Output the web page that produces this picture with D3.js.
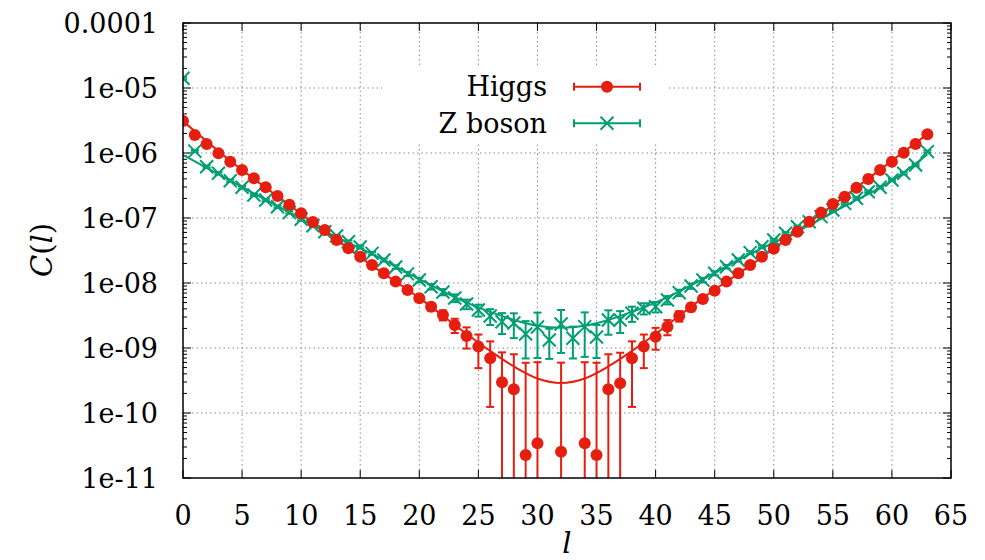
<!DOCTYPE html>
<meta charset="utf-8">

<style type="text/css">
    body { margin: 0; background: #fff; }

    /* dotted grid like gnuplot */
    .grid line { stroke: #8a8a8a; stroke-width: 1; stroke-dasharray: 1.5,3; }
    .frame { fill: none; stroke: #000; stroke-width: 1.5; }
    .tick { stroke: #000; stroke-width: 1; }

    .fitH { fill: none; stroke: #e51e10; stroke-width: 2; }
    .fitZ { fill: none; stroke: #009e73; stroke-width: 2; }
    .errH { stroke: #e51e10; stroke-width: 2; }
    .errZ { stroke: #009e73; stroke-width: 2; }
    .dot { fill: #e51e10; }
    .cross { stroke: #009e73; stroke-width: 2; fill: none; }
</style>

<body>
</body>

<script src="https://d3js.org/d3.v7.min.js"></script>
<script>

    // l = 0 .. 63
    var ells = d3.range(64);

    // Higgs correlator (null = not drawn, negative value)
    var higgs = [3.1e-6, 1.89e-6, 1.38e-6, 9.9e-7, 7.35e-7, 5.48e-7, 4.08e-7, 2.97e-7, 2.18e-7, 1.6e-7,
        1.18e-7, 8.68e-8, 6.54e-8, 4.59e-8, 3.42e-8, 2.54e-8, 1.89e-8, 1.41e-8, 1.05e-8, 7.8e-9,
        5.82e-9, 4.32e-9, 3.22e-9, 2.26e-9, 1.53e-9, 1.05e-9, 6.94e-10, 2.97e-10, 2.31e-10, 2.26e-11,
        3.42e-11, null, 2.54e-11, null, 3.42e-11, 2.26e-11, 2.31e-10, 2.86e-10, 6.94e-10, 1.05e-9,
        1.49e-9, 2.13e-9, 3.11e-9, 4.23e-9, 5.67e-9, 7.61e-9, 1.05e-8, 1.41e-8, 1.89e-8, 2.54e-8,
        3.37e-8, 4.59e-8, 6.15e-8, 8.77e-8, 1.21e-7, 1.64e-7, 2.13e-7, 2.93e-7, 3.98e-7, 5.48e-7,
        7.35e-7, 1.01e-6, 1.38e-6, 1.94e-6];

    var higgsErr = [6e-8, 4e-8, 3e-8, 2e-8, 1.5e-8, 1.1e-8, 8e-9, 6e-9, 4.5e-9, 3.5e-9,
        2.6e-9, 2e-9, 1.6e-9, 1.3e-9, 1.1e-9, 9e-10, 8e-10, 7e-10, 6.5e-10, 6e-10,
        5.8e-10, 5.7e-10, 5.7e-10, 5.6e-10, 5.5e-10, 5.6e-10, 5.7e-10, 5.6e-10, 5.7e-10, 5.7e-10,
        5.7e-10, null, 5.7e-10, null, 5.7e-10, 5.7e-10, 5.7e-10, 5.6e-10, 5.7e-10, 5.6e-10,
        5.5e-10, 5.6e-10, 5.7e-10, 5.7e-10, 5.8e-10, 6e-10, 6.5e-10, 7e-10, 8e-10, 9e-10,
        1.1e-9, 1.3e-9, 1.6e-9, 2e-9, 2.6e-9, 3.5e-9, 4.5e-9, 6e-9, 8e-9, 1.1e-8,
        1.5e-8, 2e-8, 3e-8, 4e-8];

    // Z boson correlator
    var zboson = [1.41e-5, 1.07e-6, 6.15e-7, 4.87e-7, 3.75e-7, 2.97e-7, 2.26e-7, 1.89e-7, 1.49e-7, 1.21e-7,
        9.55e-8, 7.61e-8, 6.15e-8, 5.28e-8, 4.32e-8, 3.58e-8, 2.86e-8, 2.26e-8, 1.76e-8, 1.38e-8,
        1.11e-8, 8.77e-9, 7.27e-9, 5.88e-9, 4.75e-9, 3.84e-9, 3.11e-9, 2.54e-9, 2.42e-9, 1.64e-9,
        2.10e-9, 1.33e-9, 2.34e-9, 1.41e-9, 2.13e-9, 1.48e-9, 2.70e-9, 2.70e-9, 3.42e-9, 4.08e-9,
        4.32e-9, 5.48e-9, 7.09e-9, 8.99e-9, 1.11e-8, 1.41e-8, 1.78e-8, 2.26e-8, 2.93e-8, 3.62e-8,
        4.59e-8, 5.82e-8, 7.35e-8, 8.77e-8, 1.05e-7, 1.33e-7, 1.68e-7, 2.01e-7, 2.54e-7, 2.97e-7,
        3.84e-7, 4.87e-7, 6.54e-7, 1.05e-6];

    var zbosonErr = [5e-7, 4e-8, 2.5e-8, 2e-8, 1.5e-8, 1.2e-8, 9e-9, 7.5e-9, 6e-9, 5e-9,
        4e-9, 3.2e-9, 2.6e-9, 2.2e-9, 1.9e-9, 1.6e-9, 1.4e-9, 1.2e-9, 1.1e-9, 1e-9,
        9e-10, 8.5e-10, 8e-10, 8e-10, 8e-10, 8e-10, 8.5e-10, 9e-10, 1e-9, 0.95e-9,
        1.4e-9, 6.5e-10, 1.5e-9, 7.2e-10, 1.4e-9, 7.8e-10, 1.1e-9, 1.0e-9, 9e-10, 8e-10,
        8e-10, 8e-10, 8e-10, 8.5e-10, 9e-10, 1e-9, 1.1e-9, 1.2e-9, 1.4e-9, 1.6e-9,
        1.9e-9, 2.2e-9, 2.6e-9, 3.2e-9, 4e-9, 5e-9, 6e-9, 7.5e-9, 9e-9, 1.2e-8,
        1.5e-8, 2e-8, 2.5e-8, 4e-8];

    // fitted curves at a few l values
    var fitL = [0, 4, 8, 12, 16, 20, 24, 26, 28, 30, 32, 34, 36, 38, 40, 44, 48, 52, 56, 60, 63];
    var higgsFit = [3.1e-6, 7.6e-7, 2.15e-7, 6.3e-8, 1.85e-8, 5.9e-9, 1.65e-9, 9.0e-10, 5.2e-10, 3.4e-10,
        2.9e-10, 3.4e-10, 5.2e-10, 9.0e-10, 1.65e-9, 5.9e-9, 1.85e-8, 6.3e-8, 2.15e-7, 7.6e-7, 1.95e-6];
    var zbosonFit = [9.3e-7, 3.75e-7, 1.52e-7, 6.2e-8, 2.8e-8, 1.15e-8, 5.0e-9, 3.6e-9, 2.7e-9, 2.2e-9,
        2.05e-9, 2.2e-9, 2.7e-9, 3.6e-9, 5.0e-9, 1.15e-8, 2.8e-8, 6.2e-8, 1.52e-7, 3.75e-7, 9.5e-7];

    var xTicks = d3.range(0, 66, 5);
    var yTicks = [1e-11, 1e-10, 1e-9, 1e-8, 1e-7, 1e-6, 1e-5, 1e-4];
    var yTickLabels = ["1e-11", "1e-10", "1e-09", "1e-08", "1e-07", "1e-06", "1e-05", "0.0001"];
    var legendLabels = ["Higgs", "Z boson"];

    var width = 985, height = 560;
    var plot = {left: 183, right: 951, top: 23, bottom: 478};
    var font = "DejaVu Serif";

    var x = d3.scaleLinear().domain([0, 65]).range([plot.left, plot.right]);
    var y = d3.scaleLog().domain([1e-11, 1e-4]).range([plot.bottom, plot.top]);

    var svg = d3.select("body").append("svg")
        .attr("width", width)
        .attr("height", height)
        .attr("font-family", font);

    svg.append("clipPath").attr("id", "clip")
        .append("rect")
        .attr("x", plot.left).attr("y", plot.top)
        .attr("width", plot.right - plot.left).attr("height", plot.bottom - plot.top);

    // grid
    var grid = svg.append("g").attr("class", "grid");
    grid.selectAll(".gx").data(xTicks.slice(1, -1)).enter().append("line")
        .attr("x1", function(d) { return x(d); }).attr("x2", function(d) { return x(d); })
        .attr("y1", plot.top).attr("y2", plot.bottom);
    grid.selectAll(".gy").data(yTicks.slice(1, -1)).enter().append("line")
        .attr("x1", plot.left).attr("x2", plot.right)
        .attr("y1", function(d) { return y(d); }).attr("y2", function(d) { return y(d); });

    // ticks (inward, mirrored)
    var ticks = svg.append("g");
    xTicks.forEach(function(t) {
        ticks.append("line").attr("class", "tick")
            .attr("x1", x(t)).attr("x2", x(t)).attr("y1", plot.bottom).attr("y2", plot.bottom - 8);
        ticks.append("line").attr("class", "tick")
            .attr("x1", x(t)).attr("x2", x(t)).attr("y1", plot.top).attr("y2", plot.top + 8);
    });
    var minor = [];
    for (var e = -11; e < -4; e++) {
        for (var k = 2; k < 10; k++) minor.push(k * Math.pow(10, e));
    }
    yTicks.forEach(function(t) {
        ticks.append("line").attr("class", "tick")
            .attr("x1", plot.left).attr("x2", plot.left + 8).attr("y1", y(t)).attr("y2", y(t));
        ticks.append("line").attr("class", "tick")
            .attr("x1", plot.right).attr("x2", plot.right - 8).attr("y1", y(t)).attr("y2", y(t));
    });
    minor.forEach(function(t) {
        ticks.append("line").attr("class", "tick")
            .attr("x1", plot.left).attr("x2", plot.left + 4).attr("y1", y(t)).attr("y2", y(t));
        ticks.append("line").attr("class", "tick")
            .attr("x1", plot.right).attr("x2", plot.right - 4).attr("y1", y(t)).attr("y2", y(t));
    });

    // tick labels
    svg.selectAll(".xl").data(xTicks).enter().append("text")
        .attr("x", function(d) { return x(d); })
        .attr("y", 525)
        .attr("text-anchor", "middle")
        .attr("font-size", 27)
        .text(function(d) { return d; });
    svg.selectAll(".yl").data(yTicks).enter().append("text")
        .attr("x", 158)
        .attr("y", function(d) { return y(d); })
        .attr("dy", "0.36em")
        .attr("text-anchor", "end")
        .attr("font-size", 27)
        .text(function(d, i) { return yTickLabels[i]; });

    // axis titles
    var yt = svg.append("text")
        .attr("transform", "translate(52,250) rotate(-90)")
        .attr("text-anchor", "middle")
        .attr("font-size", 29);
    yt.append("tspan").attr("font-style", "italic").text("C");
    yt.append("tspan").text("(");
    yt.append("tspan").attr("font-style", "italic").text("l");
    yt.append("tspan").text(")");

    svg.append("text")
        .attr("x", x(32.5)).attr("y", 553)
        .attr("text-anchor", "middle")
        .attr("font-size", 29).attr("font-style", "italic")
        .text("l");

    // data layer
    var layer = svg.append("g").attr("clip-path", "url(#clip)");

    function makePoints(vals, errs) {
        return ells.map(function(l, i) { return {l: l, v: vals[i], e: errs[i]}; })
            .filter(function(d) { return d.v != null; });
    }
    var hPts = makePoints(higgs, higgsErr);
    var zPts = makePoints(zboson, zbosonErr);

    var fitLine = d3.line()
        .x(function(d) { return x(d[0]); })
        .y(function(d) { return y(d[1]); })
        .curve(d3.curveMonotoneX);

    layer.append("path").attr("class", "fitZ")
        .attr("d", fitLine(fitL.map(function(l, i) { return [l, zbosonFit[i]]; })));
    layer.append("path").attr("class", "fitH")
        .attr("d", fitLine(fitL.map(function(l, i) { return [l, higgsFit[i]]; })));

    function drawErrors(pts, cls) {
        var g = layer.append("g");
        pts.forEach(function(d) {
            var top = y(d.v + d.e);
            var low = d.v - d.e > 0 ? y(d.v - d.e) : plot.bottom + 20;
            var cx = x(d.l);
            g.append("line").attr("class", cls).attr("x1", cx).attr("x2", cx).attr("y1", top).attr("y2", low);
            g.append("line").attr("class", cls).attr("x1", cx - 4).attr("x2", cx + 4).attr("y1", top).attr("y2", top);
            if (d.v - d.e > 0) {
                g.append("line").attr("class", cls).attr("x1", cx - 4).attr("x2", cx + 4).attr("y1", low).attr("y2", low);
            }
        });
    }
    drawErrors(zPts, "errZ");
    drawErrors(hPts, "errH");

    function crossPath(cx, cy, s) {
        return "M" + (cx - s) + "," + (cy - s) + "L" + (cx + s) + "," + (cy + s) +
            "M" + (cx - s) + "," + (cy + s) + "L" + (cx + s) + "," + (cy - s);
    }

    layer.selectAll(".cross").data(zPts).enter().append("path")
        .attr("class", "cross")
        .attr("d", function(d) { return crossPath(x(d.l), y(d.v), 6.5); });

    layer.selectAll(".dot").data(hPts).enter().append("circle")
        .attr("class", "dot")
        .attr("cx", function(d) { return x(d.l); })
        .attr("cy", function(d) { return y(d.v); })
        .attr("r", 6);

    // frame
    svg.append("rect").attr("class", "frame")
        .attr("x", plot.left).attr("y", plot.top)
        .attr("width", plot.right - plot.left).attr("height", plot.bottom - plot.top);

    // legend with opaque background
    var legend = svg.append("g");
    legend.append("rect")
        .attr("x", 382).attr("y", 68).attr("width", 285).attr("height", 75)
        .attr("fill", "#fff");
    var rowY = [86.7, 123.3];
    var clsErr = ["errH", "errZ"];
    legendLabels.forEach(function(lab, i) {
        var ry = rowY[i];
        legend.append("text")
            .attr("x", 547).attr("y", ry).attr("dy", "0.36em")
            .attr("text-anchor", "end")
            .attr("font-size", 27)
            .text(lab);
        legend.append("line").attr("class", clsErr[i]).attr("x1", 574).attr("x2", 640).attr("y1", ry).attr("y2", ry);
        legend.append("line").attr("class", clsErr[i]).attr("x1", 574).attr("x2", 574).attr("y1", ry - 4).attr("y2", ry + 4);
        legend.append("line").attr("class", clsErr[i]).attr("x1", 640).attr("x2", 640).attr("y1", ry - 4).attr("y2", ry + 4);
        if (i == 0) {
            legend.append("circle").attr("class", "dot").attr("cx", 607).attr("cy", ry).attr("r", 6);
        } else {
            legend.append("path").attr("class", "cross").attr("d", crossPath(607, ry, 6.5));
        }
    });

</script>
